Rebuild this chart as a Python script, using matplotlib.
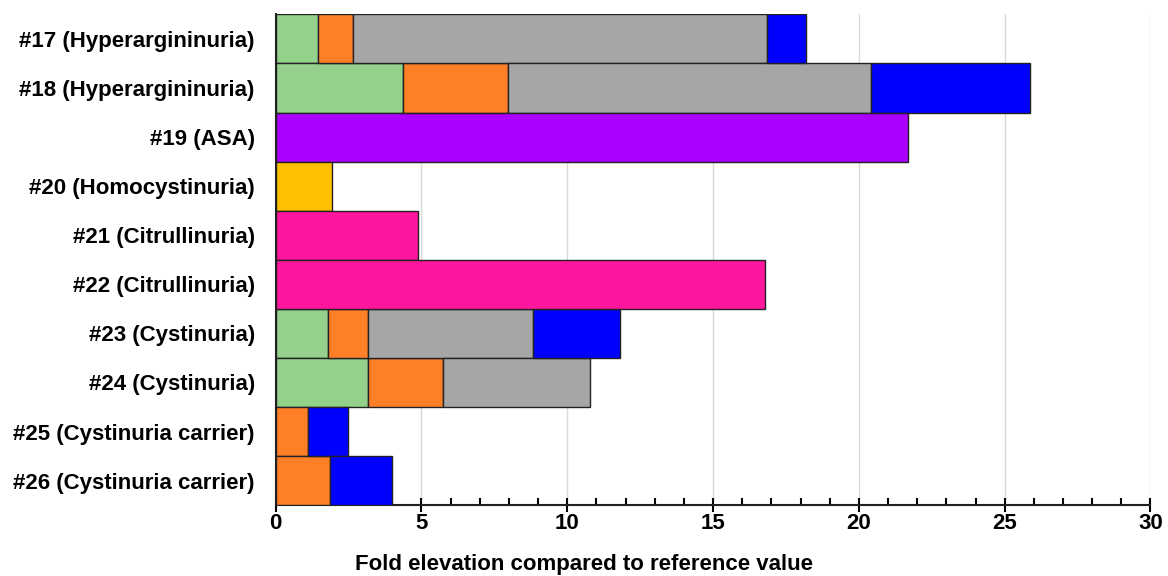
import numpy as np
import matplotlib.pyplot as plt

plt.rcParams["font.family"] = ["Liberation Sans", "DejaVu Sans"]
plt.rcParams["font.weight"] = "bold"

patients = [
    "#17 (Hyperargininuria)",
    "#18 (Hyperargininuria)",
    "#19 (ASA)",
    "#20 (Homocystinuria)",
    "#21 (Citrullinuria)",
    "#22 (Citrullinuria)",
    "#23 (Cystinuria)",
    "#24 (Cystinuria)",
    "#25 (Cystinuria carrier)",
    "#26 (Cystinuria carrier)",
]

# segment widths (fold elevation), stacked left to right
green = [1.44, 4.36, 0, 0, 0, 0, 1.79, 3.16, 0, 0]
orange = [1.20, 3.60, 0, 0, 0, 0, 1.37, 2.57, 1.10, 1.85]
gray = [14.22, 12.47, 0, 0, 0, 0, 5.66, 5.05, 0, 0]
blue = [1.33, 5.45, 0, 0, 0, 0, 2.99, 0, 1.37, 2.13]
purple = [0, 0, 21.70, 0, 0, 0, 0, 0, 0, 0]
yellow = [0, 0, 0, 1.92, 0, 0, 0, 0, 0, 0]
pink = [0, 0, 0, 0, 4.87, 16.79, 0, 0, 0, 0]

series = [
    (green, "#94D18A"),
    (orange, "#FF7F27"),
    (gray, "#A6A6A6"),
    (blue, "#0000FF"),
    (purple, "#AA00FF"),
    (yellow, "#FFC000"),
    (pink, "#FF169E"),
]

y = np.arange(len(patients))

fig, ax = plt.subplots(figsize=(11.68, 5.76), dpi=100)
left = np.zeros(len(patients))
for vals, col in series:
    vals = np.array(vals, dtype=float)
    mask = vals > 0
    ax.barh(y[mask], vals[mask], left=left[mask], height=1.0, color=col,
            edgecolor="#222222", linewidth=1.0, zorder=3)
    left += vals

ax.set_ylim(len(patients) - 0.5, -0.5)
ax.set_xlim(0, 30)
ax.set_yticks(y)
ax.set_yticklabels(patients, fontsize=16, fontweight="bold")
ax.tick_params(axis="y", length=0, pad=15)

ax.set_xticks(np.arange(0, 31, 5))
ax.set_xticks(np.arange(0, 31, 1), minor=True)
ax.tick_params(axis="x", which="major", direction="inout", length=10, width=1.5,
               labelsize=16, pad=1)
ax.tick_params(axis="x", which="minor", direction="in", length=5, width=1.5)
for lab in ax.get_xticklabels():
    lab.set_fontweight("bold")

ax.grid(axis="x", color="#D9D9D9", linewidth=1.0, zorder=0)
ax.set_axisbelow(True)

ax.spines["top"].set_visible(False)
ax.spines["right"].set_visible(False)
ax.spines["bottom"].set_linewidth(1.5)
ax.spines["bottom"].set_color("#222222")
ax.spines["left"].set_linewidth(1.5)
ax.spines["left"].set_color("#222222")

ax.set_xlabel("Fold elevation compared to reference value", fontsize=16,
              fontweight="bold")
ax.xaxis.set_label_coords(0.352, -0.1)

plt.subplots_adjust(left=0.236, right=0.985, top=0.975, bottom=0.123)
plt.savefig("out.png", dpi=100)
